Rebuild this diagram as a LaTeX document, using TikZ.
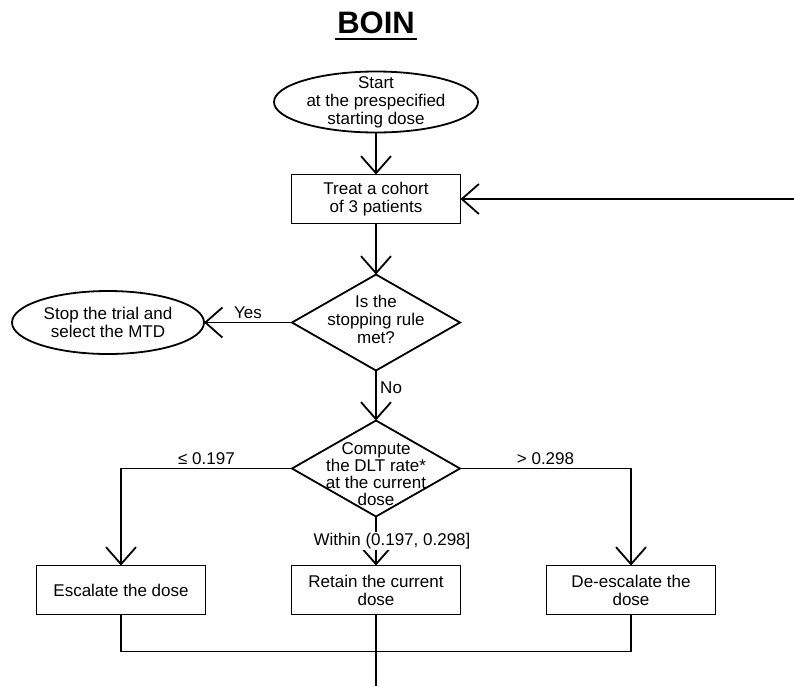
\documentclass[tikz,border=0pt]{standalone}
\usepackage{fontspec}
\setmainfont{Liberation Sans}
\usetikzlibrary{positioning,arrows.meta,shapes.geometric}

\begin{document}
\begin{tikzpicture}[
        x=1pt,
        y=1pt,
        node distance=50pt,
        font=\fontsize{17pt}{18pt}\selectfont,
        line width=1.8pt,
        arr/.style={
            -{Straight Barb[length=17pt,width=30pt]},
        },
        box/.style={
            rectangle,
            draw=black,
            outer sep=0pt,
            minimum width=169pt,
            minimum height=49pt,
            align=center,
        },
        oval/.style={
            ellipse,
            draw=black,
            outer sep=0pt,
            minimum height=61pt,
            inner sep=0pt,
        },
        decision/.style={
            diamond,
            draw=black,
            outer sep=0pt,
            minimum width=168pt,
            minimum height=96pt,
            inner sep=0pt,
        },
        txt/.style={
            align=center,
            inner sep=0pt,
        },
    ]
    \useasboundingbox (0,0) rectangle (794,-686);
    \coordinate (edgeR) at (794,0);
    \coordinate (edgeB) at (0,-686);

    \node [anchor=base, inner sep=1.5pt, font=\fontsize{31pt}{34pt}\selectfont\bfseries] (title) at (376,-33) {BOIN};
    \draw [line width=2.6pt] ([yshift=-6pt]title.base west) -- ([yshift=-6pt]title.base east);

    \node [oval, minimum width=204pt, label={[txt]center:Start\\at the prespecified\\starting dose}] (start) at (376,-102) {};
    \node [box, below=42pt of start] (treat) {Treat a cohort\\of 3 patients};
    \node [decision, below=51pt of treat, label={[txt, yshift=3pt]center:Is the\\stopping rule\\met?}] (rule) {};
    \node [oval, minimum width=192pt, minimum height=63pt, left=88pt of rule, label={[txt]center:Stop the trial and\\select the MTD}] (stop) {};
    \node [decision, below=50pt of rule, label={[txt, yshift=-6pt, font=\fontsize{17pt}{17pt}\selectfont]center:Compute\\the DLT rate*\\at the current\\dose}] (dlt) {};
    \node [box, below=49pt of dlt] (retain) {Retain the current\\dose};
    \node [box, left=86pt of retain] (esc) {Escalate the dose};
    \node [box, right=86pt of retain] (deesc) {De-escalate the\\dose};
    \coordinate (back) at (treat.east -| edgeR);

    \draw [arr] (start) -- (treat);
    \draw [arr] (treat) -- (rule);
    \draw [arr] (rule) -- node [above] {Yes} (stop);
    \draw [arr] (rule) -- node [right, pos=0.35] {No} (dlt);
    \draw [arr] (dlt.west) -| node [pos=0.25, above] {≤ 0.197} (esc);
    \draw [arr] (dlt.east) -| node [pos=0.25, above] {> 0.298} (deesc);
    \draw [arr] (dlt) -- node [fill=white, inner sep=1pt, xshift=16pt] {Within (0.197, 0.298]} (retain);
    \draw (esc.south) -- ++(0,-37) -| (deesc.south);
    \draw (retain) -- (retain |- edgeB);
    \draw [arr] (back) -- (treat);
\end{tikzpicture}
\end{document}
